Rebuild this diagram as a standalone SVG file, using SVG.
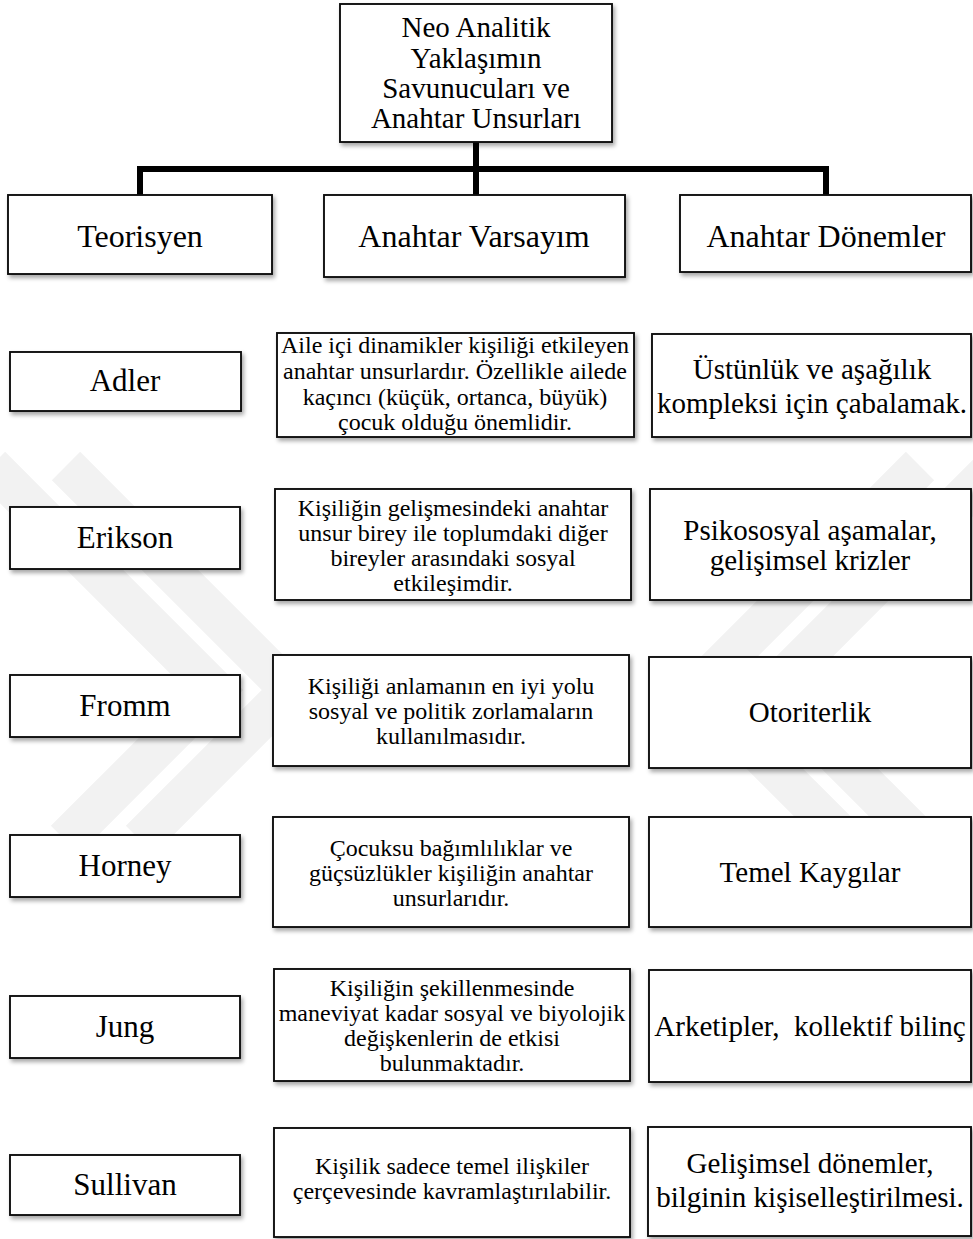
<svg xmlns="http://www.w3.org/2000/svg" width="973" height="1239" viewBox="0 0 973 1239">
<defs>
<filter id="sh" x="-10%" y="-10%" width="130%" height="140%">
<feDropShadow dx="2" dy="3" stdDeviation="2" flood-color="#000" flood-opacity="0.35"/>
</filter>
<style>
.box{fill:#fff;stroke:#111;stroke-width:1.9;filter:url(#sh)}
.t{font-family:"Liberation Serif","Times New Roman",serif;fill:#000;text-anchor:middle}
.top{font-size:29px}
.hd{font-size:32px}
.nm{font-size:31px}
.md{font-size:24px}
.rt{font-size:29px}
.wm{fill:none;stroke:#f2f2f2;stroke-width:40;stroke-linejoin:miter}
.con{fill:none;stroke:#000;stroke-width:6;stroke-linejoin:miter}
</style>
</defs>
<rect width="973" height="1239" fill="#fff"/>
<g id="watermark">
<polyline class="wm" points="66,466 290,690 140,840"/>
<polyline class="wm" points="-9,466 215,690 65,840"/>
<polyline class="wm" points="920,466 696,690 846,840"/>
<polyline class="wm" points="995,466 771,690 921,840"/>
</g>
<g id="connectors">
<path class="con" d="M476,142 V195"/>
<path class="con" d="M140,195 V169 H826 V195"/>
</g>
<g id="root">
<rect class="box" x="340" y="4" width="272" height="138"/>
<text class="t top" x="476" y="37">Neo Analitik</text>
<text class="t top" x="476" y="68">Yaklaşımın</text>
<text class="t top" x="476" y="98">Savunucuları ve</text>
<text class="t top" x="476" y="128">Anahtar Unsurları</text>
</g>
<g id="h-teorisyen">
<rect class="box" x="8" y="195" width="264" height="79"/>
<text class="t hd" x="140" y="247">Teorisyen</text>
</g>
<g id="h-varsayim">
<rect class="box" x="324" y="195" width="301" height="82"/>
<text class="t hd" x="474" y="247">Anahtar Varsayım</text>
</g>
<g id="h-donemler">
<rect class="box" x="680" y="195" width="291" height="77"/>
<text class="t hd" x="826" y="247">Anahtar Dönemler</text>
</g>

<g id="adler">
<rect class="box" x="10" y="352" width="231" height="59"/>
<text class="t nm" x="125" y="391">Adler</text>
</g>
<g id="adler-varsayim">
<rect class="box" x="277" y="333" width="357" height="104"/>
<text class="t md" x="455" y="353">Aile içi dinamikler kişiliği etkileyen</text>
<text class="t md" x="455" y="379">anahtar unsurlardır. Özellikle ailede</text>
<text class="t md" x="455" y="405">kaçıncı (küçük, ortanca, büyük)</text>
<text class="t md" x="455" y="430">çocuk olduğu önemlidir.</text>
</g>
<g id="adler-donem">
<rect class="box" x="652" y="334" width="319" height="103"/>
<text class="t rt" x="812" y="379">Üstünlük ve aşağılık</text>
<text class="t rt" x="812" y="413">kompleksi için çabalamak.</text>
</g>

<g id="erikson">
<rect class="box" x="10" y="507" width="230" height="62"/>
<text class="t nm" x="125" y="548">Erikson</text>
</g>
<g id="erikson-varsayim">
<rect class="box" x="275" y="489" width="356" height="111"/>
<text class="t md" x="453" y="516">Kişiliğin gelişmesindeki anahtar</text>
<text class="t md" x="453" y="541">unsur birey ile toplumdaki diğer</text>
<text class="t md" x="453" y="566">bireyler arasındaki sosyal</text>
<text class="t md" x="453" y="591">etkileşimdir.</text>
</g>
<g id="erikson-donem">
<rect class="box" x="650" y="489" width="321" height="111"/>
<text class="t rt" x="810" y="540">Psikososyal aşamalar,</text>
<text class="t rt" x="810" y="570">gelişimsel krizler</text>
</g>

<g id="fromm">
<rect class="box" x="10" y="675" width="230" height="62"/>
<text class="t nm" x="125" y="716">Fromm</text>
</g>
<g id="fromm-varsayim">
<rect class="box" x="273" y="655" width="356" height="111"/>
<text class="t md" x="451" y="694">Kişiliği anlamanın en iyi yolu</text>
<text class="t md" x="451" y="719">sosyal ve politik zorlamaların</text>
<text class="t md" x="451" y="744">kullanılmasıdır.</text>
</g>
<g id="fromm-donem">
<rect class="box" x="649" y="657" width="322" height="111"/>
<text class="t rt" x="810" y="722">Otoriterlik</text>
</g>

<g id="horney">
<rect class="box" x="10" y="835" width="230" height="62"/>
<text class="t nm" x="125" y="876">Horney</text>
</g>
<g id="horney-varsayim">
<rect class="box" x="273" y="817" width="356" height="110"/>
<text class="t md" x="451" y="856">Çocuksu bağımlılıklar ve</text>
<text class="t md" x="451" y="881">güçsüzlükler kişiliğin anahtar</text>
<text class="t md" x="451" y="906">unsurlarıdır.</text>
</g>
<g id="horney-donem">
<rect class="box" x="649" y="817" width="322" height="110"/>
<text class="t rt" x="810" y="882">Temel Kaygılar</text>
</g>

<g id="jung">
<rect class="box" x="10" y="996" width="230" height="62"/>
<text class="t nm" x="125" y="1037">Jung</text>
</g>
<g id="jung-varsayim">
<rect class="box" x="274" y="969" width="356" height="112"/>
<text class="t md" x="452" y="996">Kişiliğin şekillenmesinde</text>
<text class="t md" x="452" y="1021">maneviyat kadar sosyal ve biyolojik</text>
<text class="t md" x="452" y="1046">değişkenlerin de etkisi</text>
<text class="t md" x="452" y="1071">bulunmaktadır.</text>
</g>
<g id="jung-donem">
<rect class="box" x="649" y="970" width="322" height="112"/>
<text class="t rt" x="810" y="1036" xml:space="preserve">Arketipler,  kollektif bilinç</text>
</g>

<g id="sullivan">
<rect class="box" x="10" y="1155" width="230" height="60"/>
<text class="t nm" x="125" y="1195">Sullivan</text>
</g>
<g id="sullivan-varsayim">
<rect class="box" x="274" y="1128" width="356" height="109"/>
<text class="t md" x="452" y="1174">Kişilik sadece temel ilişkiler</text>
<text class="t md" x="452" y="1199">çerçevesinde kavramlaştırılabilir.</text>
</g>
<g id="sullivan-donem">
<rect class="box" x="648" y="1127" width="323" height="109"/>
<text class="t rt" x="810" y="1173">Gelişimsel dönemler,</text>
<text class="t rt" x="810" y="1207">bilginin kişiselleştirilmesi.</text>
</g>
</svg>
